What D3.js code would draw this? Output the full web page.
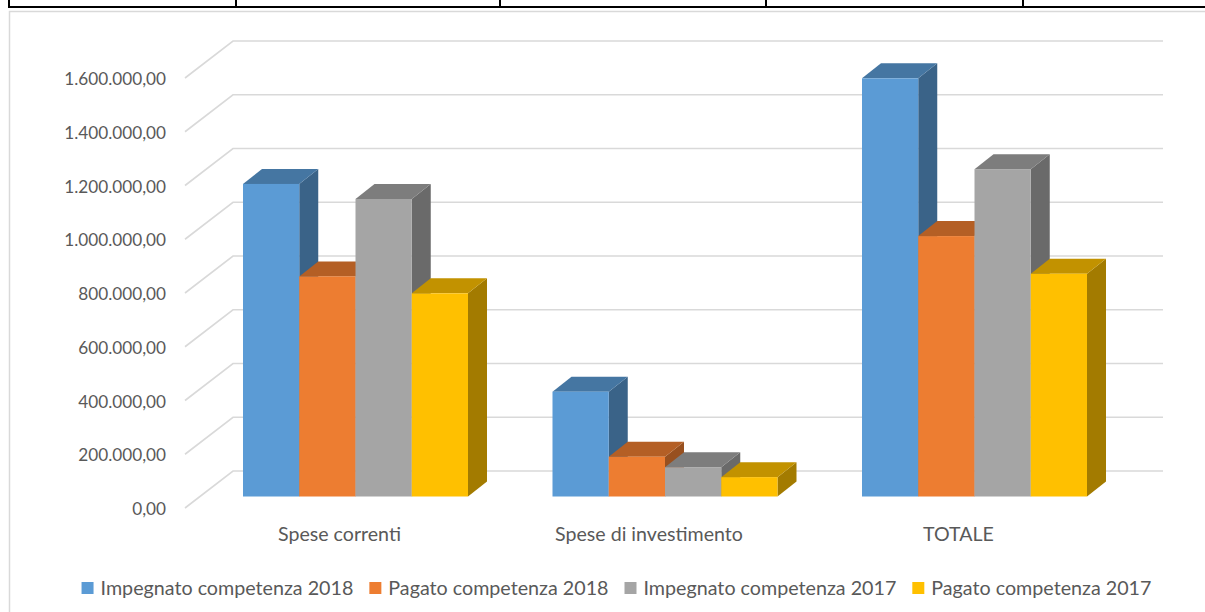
<!DOCTYPE html>
<html>
<head>
<meta charset="utf-8">
<script src="https://cdn.jsdelivr.net/npm/d3@7"></script>
<style>
  html, body { margin: 0; padding: 0; background: #ffffff; }
  svg { display: block; }
  text { font-family: Lato, "Open Sans", sans-serif; }
</style>
</head>
<body>
<svg id="chart" width="1205" height="612"></svg>
<script>
// ---- data ----
const categories = ["Spese correnti", "Spese di investimento", "TOTALE"];
const seriesNames = ["Impegnato competenza 2018", "Pagato competenza 2018", "Impegnato competenza 2017", "Pagato competenza 2017"];
const impegnato2018 = [1163000, 390000, 1556000];
const pagato2018 = [819000, 148000, 969000];
const impegnato2017 = [1107000, 109000, 1218000];
const pagato2017 = [756000, 72000, 829000];
const yTicks = [0, 200000, 400000, 600000, 800000, 1000000, 1200000, 1400000, 1600000];
const seriesColors = ["#5B9BD5", "#ED7D31", "#A5A5A5", "#FFC000"];

const seriesValues = [impegnato2018, pagato2018, impegnato2017, pagato2017];

// ---- setup ----
const svg = d3.select("#chart");
const itFormat = d3.formatLocale({decimal: ",", thousands: ".", grouping: [3], currency: ["€", ""]}).format(",.2f");

// table fragment above the chart
const table = svg.append("g");
table.append("line").attr("x1", 8).attr("x2", 1205).attr("y1", 7).attr("y2", 7)
  .attr("stroke", "#000").attr("stroke-width", 2);
[9, 236, 500, 766, 1023].forEach(x => {
  table.append("line").attr("x1", x).attr("x2", x).attr("y1", 0).attr("y2", 7)
    .attr("stroke", "#000").attr("stroke-width", 2);
});

// chart frame
svg.append("rect").attr("x", 9.5).attr("y", 11.5).attr("width", 1300).attr("height", 700)
  .attr("fill", "#fff").attr("stroke", "#d9d9d9").attr("stroke-width", 1.5);

// scales
const y = d3.scaleLinear().domain([0, 1600000]).range([508, 78]);
const depthDx = 48, depthDy = -37;     // wall depth
const barFloorShift = -11.5;           // bar front plane relative to front edge
const barDx = 19, barDy = -15;         // bar depth

const x0 = d3.scaleBand().domain(categories).range([200.75, 1129.25])
  .paddingInner(0.273).paddingOuter(0.1365);
const x1 = d3.scaleBand().domain(seriesNames).range([0, x0.bandwidth()]).padding(0);

// gridlines (back wall + floor diagonal)
const grid = svg.append("g");
yTicks.forEach(t => {
  const fy = y(t);
  grid.append("path")
    .attr("d", `M185,${fy} L${185 + depthDx},${fy + depthDy} L1163,${fy + depthDy}`)
    .attr("fill", "none").attr("stroke", "#d9d9d9").attr("stroke-width", 1.6);
});

// y axis labels
const yAxis = d3.axisLeft(y).tickValues(yTicks).tickFormat(itFormat).tickSize(0).tickPadding(8);
const ax = svg.append("g").attr("transform", "translate(174,1)").call(yAxis);
ax.select(".domain").remove();
ax.selectAll("text").attr("fill", "#595959").style("font-size", "17.2px").style("font-family", "Lato");

// bars
function shade(c, k) {
  const col = d3.rgb(c);
  return d3.rgb(col.r * k, col.g * k, col.b * k).formatHex();
}
const bars = svg.append("g");
categories.forEach((cat, ci) => {
  seriesNames.forEach((s, si) => {
    const v = seriesValues[si][ci];
    const xl = x0(cat) + x1(s);
    const xr = xl + x1.bandwidth();
    const yb = y(0) + barFloorShift;
    const yt = y(v) + barFloorShift;
    const c = seriesColors[si];
    const g = bars.append("g");
    // side
    g.append("path")
      .attr("d", `M${xr},${yt} L${xr + barDx},${yt + barDy} L${xr + barDx},${yb + barDy} L${xr},${yb} Z`)
      .attr("fill", shade(c, 0.64));
    // top
    g.append("path")
      .attr("d", `M${xl},${yt} L${xr},${yt} L${xr + barDx},${yt + barDy} L${xl + barDx},${yt + barDy} Z`)
      .attr("fill", shade(c, 0.76));
    // front
    g.append("rect").attr("x", xl).attr("y", yt).attr("width", xr - xl).attr("height", yb - yt)
      .attr("fill", c);
  });
});

// category labels
svg.append("g").selectAll("text").data(categories).join("text")
  .attr("x", d => x0(d) + x0.bandwidth() / 2 - 16)
  .attr("y", 541)
  .attr("text-anchor", "middle")
  .attr("fill", "#595959")
  .style("font-size", "19.6px")
  .text(d => d);

// legend
const legend = svg.append("g");
let cx = 0;
seriesNames.forEach((s, i) => {
  const it = legend.append("g");
  it.append("rect").attr("x", 0).attr("y", -6).attr("width", 12).attr("height", 12).attr("fill", seriesColors[i]);
  const t = it.append("text").attr("x", 19).attr("y", 0).attr("dy", "0.35em")
    .attr("fill", "#595959").style("font-size", "19.7px").text(s);
  const w = 19 + t.node().getComputedTextLength();
  it.attr("transform", `translate(${cx},0)`);
  cx += w + 16;
});
const totalW = cx - 16;
legend.attr("transform", `translate(${616.5 - totalW / 2},588)`);
</script>
</body>
</html>
